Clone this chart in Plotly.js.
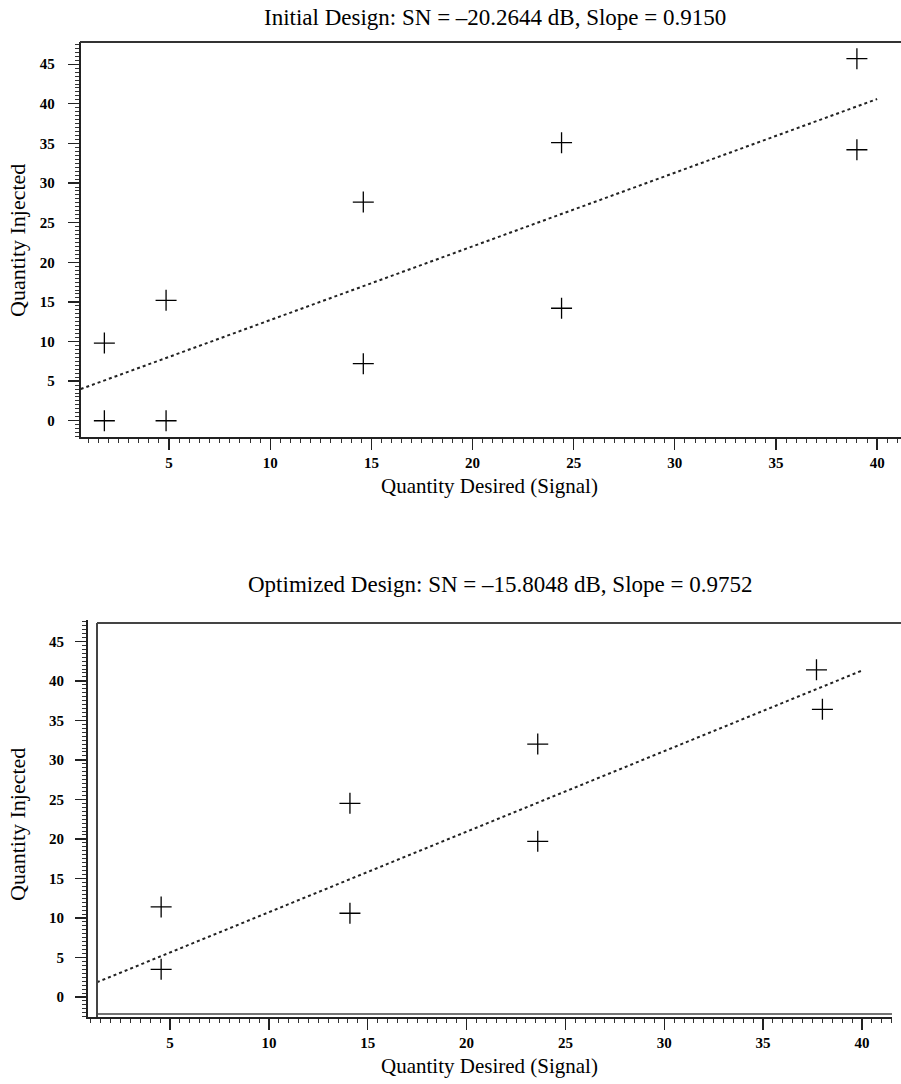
<!DOCTYPE html>
<html>
<head>
<meta charset="utf-8">
<script src="https://cdn.plot.ly/plotly-3.0.1.min.js"></script>
<style>html,body{margin:0;padding:0;background:#fff;}#chart{width:901px;height:1084px;}</style>
</head>
<body>
<div id="chart"></div>
<script>
// Initial design data
const initSignal = [1.8, 1.8, 4.85, 4.85, 14.6, 14.6, 24.4, 24.4, 39.0, 39.0];
const initResponse = [9.8, 0.0, 15.2, 0.0, 27.6, 7.2, 35.1, 14.2, 45.7, 34.2];
const initFitX = [0.63, 40.0];
const initFitY = [4.0, 40.6];

// Optimized design data
const optSignal = [4.55, 4.55, 14.1, 14.1, 23.6, 23.6, 37.7, 38.0];
const optResponse = [11.4, 3.5, 24.5, 10.6, 32.0, 19.7, 41.4, 36.4];
const optFitX = [1.3, 39.95];
const optFitY = [1.86, 41.25];

const tickVals = [0, 5, 10, 15, 20, 25, 30, 35, 40, 45];
const xTickVals = [5, 10, 15, 20, 25, 30, 35, 40];

const titles = [
  "Initial Design: SN = \u201320.2644 dB, Slope = 0.9150",
  "Optimized Design: SN = \u201315.8048 dB, Slope = 0.9752"
];
const xTitle = "Quantity Desired (Signal)";
const yTitle = "Quantity Injected";

const W = 901, H = 1084;
const px = v => v / W;
const py = v => (H - v) / H;
const serif = "Liberation Serif, Times New Roman, serif";

const markerStyle = {symbol: 'cross-thin-open', size: 15, color: '#000', line: {color: '#000', width: 1.3}};
const fitStyle = {color: '#222', width: 2, dash: 'dot'};

const traces = [
  {x: initSignal, y: initResponse, mode: 'markers', marker: markerStyle, xaxis: 'x', yaxis: 'y', cliponaxis: false},
  {x: initFitX, y: initFitY, mode: 'lines', line: fitStyle, xaxis: 'x', yaxis: 'y'},
  {x: optSignal, y: optResponse, mode: 'markers', marker: markerStyle, xaxis: 'x2', yaxis: 'y2', cliponaxis: false},
  {x: optFitX, y: optFitY, mode: 'lines', line: fitStyle, xaxis: 'x2', yaxis: 'y2'}
];

function axisBase(domain, range, anchor, vals, standoff) {
  return {
    domain: domain, range: range, anchor: anchor,
    tickmode: 'array', tickvals: vals,
    ticks: 'outside', ticklen: 11, tickwidth: 1.3, tickcolor: '#222',
    ticklabelstandoff: standoff,
    minor: {dtick: 0.5, tick0: 0, ticks: 'outside', ticklen: 4, tickwidth: 1, tickcolor: '#333', showgrid: false},
    showline: true, linecolor: '#222', linewidth: 2,
    showgrid: false, zeroline: false, automargin: false,
    tickfont: {family: serif, size: 15, color: '#000', weight: 'bold'}
  };
}

const layout = {
  width: W, height: H,
  margin: {l: 0, r: 0, t: 0, b: 0, pad: 0},
  paper_bgcolor: '#fff', plot_bgcolor: '#fff',
  showlegend: false,
  xaxis: axisBase([px(80.7), 1], [0.63, 41.18], 'y', xTickVals, 0),
  yaxis: axisBase([py(437), py(42)], [-2.05, 47.8], 'x', tickVals, 10),
  xaxis2: axisBase([px(88), px(892)], [0.85, 41.52], 'y2', xTickVals, 0),
  yaxis2: axisBase([py(1017), py(620)], [-2.53, 47.7], 'x2', tickVals, 8),
  shapes: [
    {type: 'line', xref: 'paper', yref: 'paper', x0: px(80), x1: 1, y0: py(42), y1: py(42), line: {color: '#333', width: 2}},
    {type: 'line', xref: 'paper', yref: 'paper', x0: px(97), x1: 1, y0: py(623), y1: py(623), line: {color: '#444', width: 2}},
    {type: 'line', xref: 'paper', yref: 'paper', x0: px(97), x1: px(97), y0: py(1017), y1: py(623), line: {color: '#444', width: 2}},
    {type: 'line', xref: 'paper', yref: 'paper', x0: px(97), x1: px(892), y0: py(1014), y1: py(1014), line: {color: '#444', width: 1.5}}
  ],
  annotations: [
    {text: titles[0], xref: 'paper', yref: 'paper', x: px(495), y: py(18), showarrow: false, xanchor: 'center', yanchor: 'middle', font: {family: serif, size: 23, color: '#000'}},
    {text: titles[1], xref: 'paper', yref: 'paper', x: px(500), y: py(584), showarrow: false, xanchor: 'center', yanchor: 'middle', font: {family: serif, size: 23, color: '#000'}},
    {text: xTitle, xref: 'paper', yref: 'paper', x: px(490), y: py(486), showarrow: false, xanchor: 'center', yanchor: 'middle', font: {family: serif, size: 21, color: '#000'}},
    {text: xTitle, xref: 'paper', yref: 'paper', x: px(490), y: py(1066), showarrow: false, xanchor: 'center', yanchor: 'middle', font: {family: serif, size: 21, color: '#000'}},
    {text: yTitle, xref: 'paper', yref: 'paper', x: px(17), y: py(241), showarrow: false, textangle: -90, xanchor: 'center', yanchor: 'middle', font: {family: serif, size: 22, color: '#000'}},
    {text: yTitle, xref: 'paper', yref: 'paper', x: px(17), y: py(825), showarrow: false, textangle: -90, xanchor: 'center', yanchor: 'middle', font: {family: serif, size: 22, color: '#000'}}
  ]
};

Plotly.newPlot('chart', traces, layout, {staticPlot: true, displayModeBar: false});
</script>
</body>
</html>
